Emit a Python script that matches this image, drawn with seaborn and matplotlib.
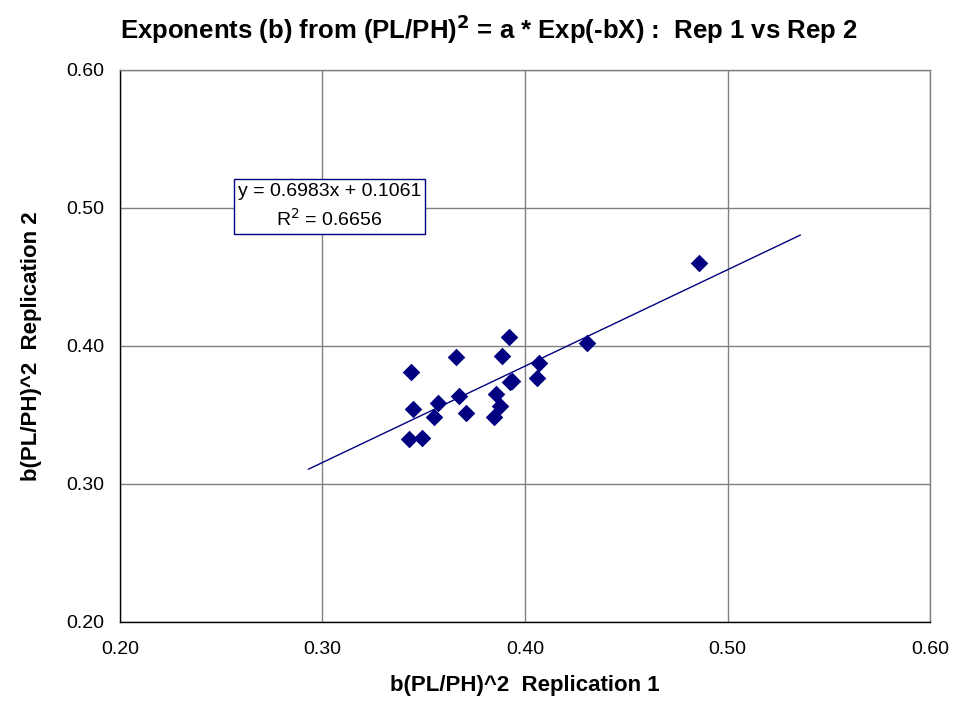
import matplotlib
matplotlib.use("Agg")
import matplotlib.pyplot as plt
import seaborn as sns
import numpy as np
import pandas as pd

rep1 = [0.3919, 0.3658, 0.3887, 0.3439, 0.4069, 0.4304, 0.3928, 0.3935, 0.4059, 0.3676,
        0.3569, 0.3858, 0.3449, 0.3878, 0.3708, 0.3549, 0.3848, 0.3426, 0.3489, 0.4859]
rep2 = [0.4067, 0.3918, 0.3930, 0.3809, 0.3879, 0.4020, 0.3741, 0.3748, 0.3766, 0.3638,
        0.3589, 0.3652, 0.3546, 0.3565, 0.3517, 0.3486, 0.3486, 0.3328, 0.3335, 0.4599]
slope = 0.6983
intercept = 0.1061
r2 = 0.6656
trend_x = [0.293, 0.536]
ticks = [0.20, 0.30, 0.40, 0.50, 0.60]

sns.set_theme(style="white")
plt.rcParams['font.family'] = ['Liberation Sans', 'DejaVu Sans']
plt.rcParams['text.color'] = 'black'
plt.rcParams['axes.labelcolor'] = 'black'

df = pd.DataFrame({"rep1": rep1, "rep2": rep2})
trend = pd.DataFrame({"x": trend_x, "y": [slope * v + intercept for v in trend_x]})

fig = plt.figure(figsize=(9.54, 7.07), dpi=100)
ax = fig.add_axes([120/954, 1-622/707, 810/954, 552/707])

sns.lineplot(data=trend, x="x", y="y", ax=ax, color="#000080", linewidth=1.0, zorder=3)
sns.scatterplot(data=df, x="rep1", y="rep2", ax=ax, marker="D", s=80, color="#000080",
                edgecolor="#000080", linewidth=0, zorder=4)

ax.set_xlim(0.20, 0.60)
ax.set_ylim(0.20, 0.60)
ax.set_xticks(ticks)
ax.set_yticks(ticks)
ax.set_xticklabels([f"{t:.2f}" for t in ticks])
ax.set_yticklabels([f"{t:.2f}" for t in ticks])
ax.grid(True, color="#808080", linewidth=1.0)
ax.set_axisbelow(True)
for name, s in ax.spines.items():
    s.set_linewidth(1.0)
    s.set_color("black" if name in ("left", "bottom") else "#808080")
ax.tick_params(axis="x", direction="out", length=5, color="black", width=1, pad=9,
               labelcolor="black", labelsize=14)
ax.tick_params(axis="y", direction="out", length=5, color="black", width=1, pad=6,
               labelcolor="black", labelsize=14)

ax.set_xlabel("b(PL/PH)^2  Replication 1", fontsize=16, fontweight="bold", labelpad=12)
ax.set_ylabel("b(PL/PH)^2  Replication 2", fontsize=16, fontweight="bold", labelpad=18)
fig.text(0.512, 1-29/707, r"Exponents (b) from (PL/PH)$^{\mathbf{2}}$ = a * Exp(-bX) :  Rep 1 vs Rep 2",
         ha="center", va="center", fontsize=18.5, fontweight="bold")

ax.text(0.3034, 0.501, f"y = {slope}x + {intercept}\nR$^2$ = {r2}", fontsize=14,
        ha="center", va="center", linespacing=1.45,
        bbox=dict(boxstyle="square,pad=0.2", facecolor="white", edgecolor="#000080", linewidth=1))

fig.savefig("out.png", dpi=100)
